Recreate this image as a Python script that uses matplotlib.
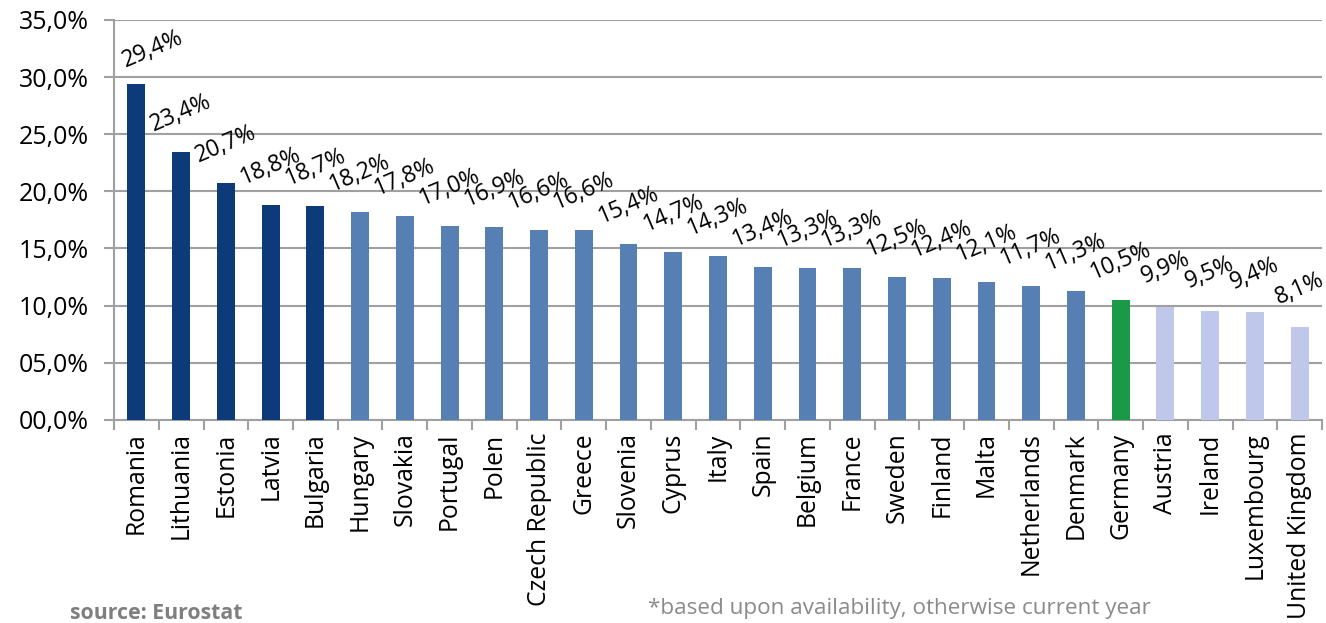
import matplotlib
matplotlib.use("Agg")
import matplotlib.pyplot as plt
from matplotlib.ticker import FuncFormatter, MultipleLocator, FixedLocator

countries = ["Romania", "Lithuania", "Estonia", "Latvia", "Bulgaria", "Hungary",
             "Slovakia", "Portugal", "Polen", "Czech Republic", "Greece", "Slovenia",
             "Cyprus", "Italy", "Spain", "Belgium", "France", "Sweden", "Finland",
             "Malta", "Netherlands", "Denmark", "Germany", "Austria", "Ireland",
             "Luxembourg", "United Kingdom"]
values = [29.4, 23.4, 20.7, 18.8, 18.7, 18.2, 17.8, 17.0, 16.9, 16.6, 16.6, 15.4,
          14.7, 14.3, 13.4, 13.3, 13.3, 12.5, 12.4, 12.1, 11.7, 11.3, 10.5, 9.9,
          9.5, 9.4, 8.1]
groups = ["dark"] * 5 + ["mid"] * 17 + ["green"] + ["light"] * 4

palette = {"dark": "#0d3a78", "mid": "#5680b4", "green": "#1a9a48", "light": "#bfc8ea"}
colors = [palette[g] for g in groups]

plt.rcParams['font.family'] = ['Open Sans', 'DejaVu Sans']

fig = plt.figure(figsize=(13.26, 6.23), dpi=100)
ax = fig.add_axes([0.086, 0.326, 0.911, 0.642])

x = list(range(len(countries)))
ax.bar(x, values, width=0.4, color=colors, zorder=3)

ax.set_xlim(-0.5, len(countries) - 0.5)
ax.set_ylim(0, 35)
ax.yaxis.set_major_locator(MultipleLocator(5))
ax.yaxis.set_major_formatter(FuncFormatter(lambda v, p: f"{v:04.1f}".replace(".", ",") + "%"))
ax.grid(axis="y", color="#a0a0a0", linewidth=1.5, zorder=0)

ax.set_xticks(x)
ax.set_xticklabels(countries, rotation=90, fontsize=17.8)
ax.tick_params(axis="x", which="major", length=0, pad=9)
ax.xaxis.set_minor_locator(FixedLocator([i - 0.5 for i in range(len(countries) + 1)]))
ax.tick_params(axis="x", which="minor", length=7, width=1.5, color="#a0a0a0")
ax.tick_params(axis="y", length=7, width=1.5, color="#a0a0a0", labelsize=18, pad=11)

for s in ["top", "right"]:
    ax.spines[s].set_visible(False)
for s in ["left", "bottom"]:
    ax.spines[s].set_color("#a0a0a0")
    ax.spines[s].set_linewidth(1.5)

for i, (xi, v) in enumerate(zip(x, values)):
    offset = (12, 25) if i == 0 else (0, 28)
    ax.annotate(f"{v:.1f}".replace(".", ",") + "%", xy=(xi, v), xytext=offset,
                textcoords="offset points", ha="center", va="center",
                rotation=23, fontsize=16.5, zorder=4)

fig.text(0.053, 0.006, "source: Eurostat", color="#7f7f7f", fontsize=15.3,
         fontweight="bold", ha="left", va="baseline")
fig.text(0.489, 0.014, "*based upon availability, otherwise current year",
         color="#8a8a8a", fontsize=16.2, ha="left", va="baseline")

fig.savefig("out.png", dpi=100)
